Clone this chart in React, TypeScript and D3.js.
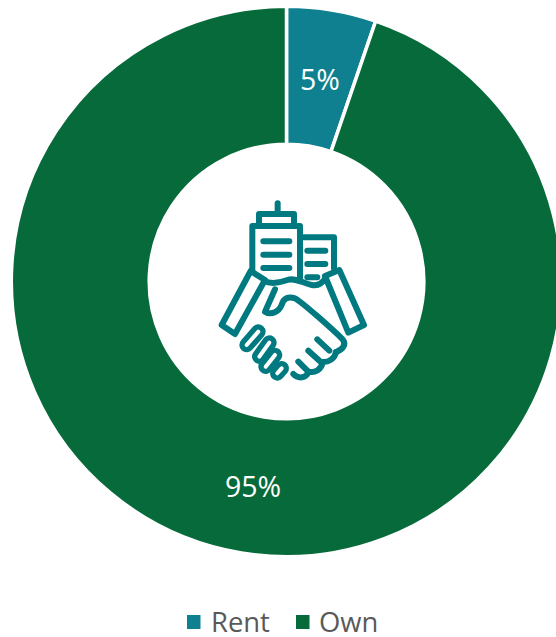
import React from "react";
import * as d3 from "d3";

const categories = ["Rent", "Own"];
const values = [5.25, 94.75];
const labels = ["5%", "95%"];
const colors = ["#0e8090", "#076a3a"];
const ICON = "#007a80";
const FONT = "'Open Sans', sans-serif";

const iconPaths = [
  "M233 40V70",
  "M177 100V72H282V100",
  "M157 240V108H300V265",
  "M190 154H268M190 194H268M190 234H268",
  "M303 142H402V235",
  "M322 182H376M322 222H376M322 262H352",
  "M152 243L195 270L105 432L65 405Z",
  "M375 258L418 240L492 405L445 428Z",
  "M192 272C215 285 240 278 262 270C285 262 310 280 335 285C350 288 365 285 378 262",
  "M225 298L195 365C210 375 235 370 245 345C250 325 265 318 285 325C305 335 400 420 428 448C442 465 425 480 408 486",
  "M408 486C405 505 385 518 368 516C365 538 345 550 326 545C318 565 295 568 280 552",
  "M352 448L388 482M325 482L365 518M295 515L322 542",
];
const fingers = [
  "M175 425L140 465",
  "M208 458L178 500",
  "M225 495L197 530",
  "M245 535L232 550",
];

export default function App() {
  const cx = 286.5, cy = 281.5, outer = 275.2, inner = 137.3;
  const pie = d3.pie<number>().sort(null)(values);
  const arc = d3.arc<d3.PieArcDatum<number>>().innerRadius(inner).outerRadius(outer);
  const legend = [
    { sq: 187, tx: 211 },
    { sq: 296, tx: 319 },
  ];
  return (
    <svg width={556} height={637} style={{ position: "fixed", left: 0, top: 0, background: "#fff" }}>
      <g transform={`translate(${cx},${cy})`}>
        {pie.map((d, i) => (
          <path key={i} d={arc(d) || ""} fill={colors[i]} stroke="#fff" strokeWidth={3.5} />
        ))}
      </g>
      {labels.map((t, i) => (
        <text key={i} x={i === 0 ? 320 : 253} y={i === 0 ? 90 : 497} textAnchor="middle"
          fontFamily={FONT} fontSize={28.5} fill="#fff">
          {t}
        </text>
      ))}
      <g transform="translate(200,190) scale(0.3333)" fill="none" stroke={ICON} strokeWidth={18}
        strokeLinecap="round" strokeLinejoin="round">
        {iconPaths.map((p, i) => <path key={i} d={p} />)}
        {fingers.map((p, i) => <path key={i} d={p} strokeWidth={44} />)}
        {fingers.map((p, i) => <path key={i} d={p} stroke="#fff" strokeWidth={12} />)}
      </g>
      {categories.map((c, i) => (
        <g key={c}>
          <rect x={legend[i].sq} y={615} width={13.5} height={14} fill={colors[i]} />
          <text x={legend[i].tx} y={632} fontFamily={FONT} fontSize={27.4} fill="#595959">{c}</text>
        </g>
      ))}
    </svg>
  );
}
